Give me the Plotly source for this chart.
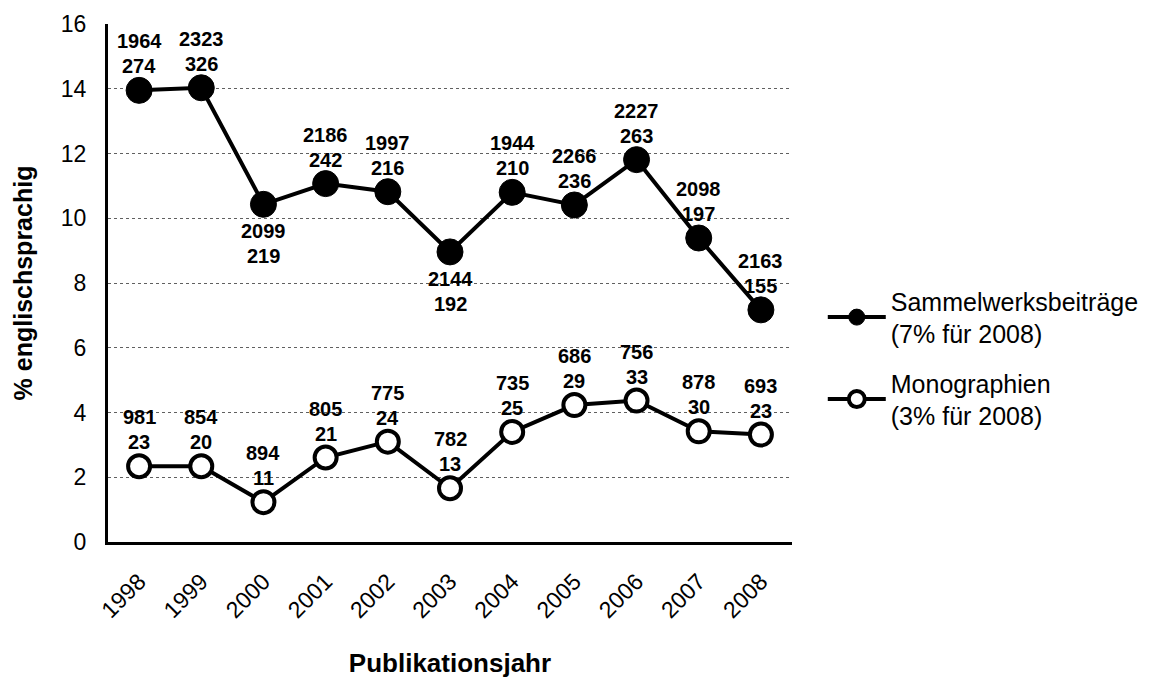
import plotly.graph_objects as go

# Publikationsjahre
years = ["1998", "1999", "2000", "2001", "2002", "2003", "2004", "2005", "2006", "2007", "2008"]

# Sammelwerksbeiträge: Gesamtzahl, davon englischsprachig, Anteil in %
sammel_total = [1964, 2323, 2099, 2186, 1997, 2144, 1944, 2266, 2227, 2098, 2163]
sammel_engl = [274, 326, 219, 242, 216, 192, 210, 236, 263, 197, 155]
sammel_pct = [13.95, 14.03, 10.43, 11.07, 10.82, 8.96, 10.80, 10.41, 11.81, 9.39, 7.17]

# Monographien
mono_total = [981, 854, 894, 805, 775, 782, 735, 686, 756, 878, 693]
mono_engl = [23, 20, 11, 21, 24, 13, 25, 29, 33, 30, 23]
mono_pct = [2.34, 2.34, 1.23, 2.61, 3.10, 1.66, 3.40, 4.23, 4.37, 3.42, 3.32]

# Beschriftung ober- oder unterhalb des Punktes
sammel_above = [True, True, False, True, True, False, True, True, True, True, True]
mono_above = [True] * len(years)

lbl_font = dict(family="Arial", size=20, color="black", weight="bold")

fig = go.Figure()

fig.add_trace(go.Scatter(
    x=years, y=sammel_pct,
    name="Sammelwerksbeiträge<br>(7% für 2008)",
    legendgroup="s",
    mode="lines+markers",
    line=dict(color="black", width=4),
    marker=dict(color="black", size=26, line=dict(color="black", width=1)),
))

fig.add_trace(go.Scatter(
    x=years, y=mono_pct,
    name="Monographien<br>(3% für 2008)",
    legendgroup="m",
    mode="lines+markers",
    line=dict(color="black", width=4),
    marker=dict(color="white", size=22, line=dict(color="black", width=4)),
))

# Datenbeschriftungen: Gesamtzahl und Zahl englischsprachiger Titel
# (x als Kategorienindex, da "1998" sonst als Index 1998 gelesen wird)
for ys, tot, eng, above in [(sammel_pct, sammel_total, sammel_engl, sammel_above),
                            (mono_pct, mono_total, mono_engl, mono_above)]:
    for i, (y, t, e, a) in enumerate(zip(ys, tot, eng, above)):
        if a:
            lines = [(str(e), 24), (str(t), 49)]
        else:
            lines = [(str(t), -27), (str(e), -52)]
        for txt, dy in lines:
            fig.add_annotation(x=i, y=y, text=txt, showarrow=False, yshift=dy,
                               xanchor="center", yanchor="middle", font=lbl_font)

# Seite hat 8px Rand, daher Figur etwas kleiner
fig.update_layout(
    width=1148, height=670,
    margin=dict(l=100, r=361, t=16, b=136),
    paper_bgcolor="white", plot_bgcolor="white",
    font=dict(family="Arial", color="black"),
    showlegend=True,
    legend=dict(
        x=1.045, y=0.355, xanchor="left", yanchor="middle",
        font=dict(family="Arial", size=25, color="black"),
        itemwidth=58, tracegroupgap=14,
        bgcolor="rgba(0,0,0,0)",
    ),
    xaxis=dict(
        type="category", range=[-0.5, 10.5], automargin=False,
        showline=True, linecolor="black", linewidth=3,
        showgrid=False, ticks="", ticklabelstandoff=14,
        tickangle=-45, tickfont=dict(family="Arial", size=23, color="black"),
        title=dict(text="<b>Publikationsjahr</b>", font=dict(family="Arial", size=26, color="black"),
                   standoff=34),
    ),
    yaxis=dict(
        range=[0, 16], dtick=2, automargin=False,
        showline=True, linecolor="black", linewidth=3,
        showgrid=True, gridcolor="#606060", griddash="dot", gridwidth=1,
        zeroline=False, ticks="", ticklabelstandoff=14,
        tickfont=dict(family="Arial", size=23, color="black"),
        title=dict(text="<b>% englischsprachig</b>", font=dict(family="Arial", size=25, color="black"),
                   standoff=22),
    ),
)

fig.write_html("out.html")
